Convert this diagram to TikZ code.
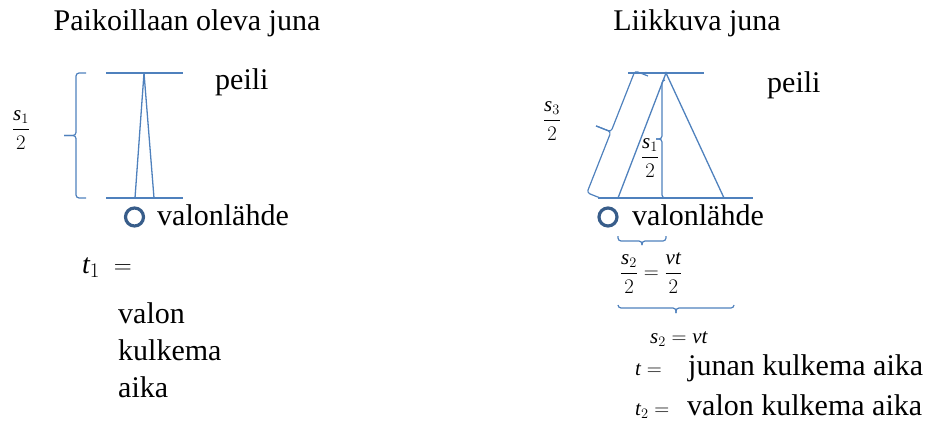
\documentclass[tikz,border=0pt]{standalone}
\usepackage{amsmath}
\usepackage{fontspec}
\setmainfont{Liberation Serif}
\newfontfamily\junafont{Liberation Serif}
\setmathrm{Liberation Serif}
\definecolor{linja}{RGB}{79,129,189}
\definecolor{lamppu}{RGB}{56,93,138}

% square brace: length, spine offset, tip offset (drawn in a shifted/rotated scope)
\newcommand{\sqbrace}[3]{%
  \draw[bracket] (0,0) -- (0,#2) -- ({#1/2},#2) -- ({#1/2},#3);
  \draw[bracket] (#1,0) -- (#1,#2) -- ({#1/2},#2) -- ({#1/2},#3);}

\begin{document}
\begin{tikzpicture}[
  x=1pt, y=-1pt,
  every node/.style={inner sep=0pt},
  mirror/.style={draw=linja, line width=1.3pt},
  ray/.style={draw=linja, line width=1.3pt},
  bracket/.style={draw=linja, line width=1.2pt, rounded corners=3pt},
  lamp/.style={circle, draw=lamppu, line width=3.2pt, minimum size=18pt},
  txt/.style={font=\junafont\fontsize{30}{36}\selectfont, anchor=base west},
  head/.style={font=\junafont\fontsize{30}{36}\selectfont, anchor=base},
  eq/.style={font=\junafont\fontsize{21}{25}\selectfont}
]
\useasboundingbox (0,0) rectangle (933,436);

% Train at rest.
\node[head] (titleL) at (187,31) {Paikoillaan oleva juna};
\draw[mirror] (106,73) -- (183,73);
\draw[mirror] (106,198) -- (183,198);
\draw[ray] (135,198) -- (144,73) -- (154,198);
\begin{scope}[shift={(86,73)}, rotate=-90]
  \sqbrace{125}{10}{22}
\end{scope}
\node[eq] (halfL) at (21,130) {$\dfrac{\mathit{s}_1}{2}$};
\node[txt] (peiliL) at (215,89) {peili};
\node[lamp] (lampL) at (134.5,217) {};
\node[txt] (srcL) at (157,225) {valonlähde};
\node[txt, font=\junafont\fontsize{28}{34}\selectfont] (t1) at (82,273) {$\mathit{t}_1\;=$};
\node[txt] (valonL) at (118,323) {valon};
\node[txt] (kulkemaL) at (118,360) {kulkema};
\node[txt] (aikaL) at (118,397) {aika};

% Moving train.
\node[head] (titleR) at (697,31) {Liikkuva juna};
\draw[mirror] (628,73) -- (704,73);
\draw[mirror] (598,198) -- (753,198);
\draw[ray] (618,198) -- (666,73) -- (724,198);
\begin{scope}[shift={(648,76)}, rotate=-111.5]
  \sqbrace{131}{14}{30}
\end{scope}
\begin{scope}[shift={(665,80)}, rotate=-90]
  \sqbrace{118}{3}{9}
\end{scope}
\node[eq] (halfS3) at (552,121) {$\dfrac{\mathit{s}_3}{2}$};
\node[eq] (halfS1) at (650,158) {$\dfrac{\mathit{s}_1}{2}$};
\node[txt] (peiliR) at (767,92) {peili};
\node[lamp] (lampR) at (608,217) {};
\node[txt] (srcR) at (632,225) {valonlähde};

% Distances below the source.
\begin{scope}[shift={(618,236)}]
  \sqbrace{48}{5}{9}
\end{scope}
\node[eq] (halfS2) at (651,273) {$\dfrac{\mathit{s}_2}{2}=\dfrac{\mathit{vt}}{2}$};
\begin{scope}[shift={(618,305)}]
  \sqbrace{116}{3}{8}
\end{scope}
\node[eq, anchor=base west] (fullS2) at (650,343) {$\mathit{s}_2=\mathit{vt}$};
\node[eq, anchor=base west] (tJ) at (635,375) {$\mathit{t}=$};
\node[txt] (junaR) at (688,375) {junan kulkema aika};
\node[eq, anchor=base west] (t2) at (635,415) {$\mathit{t}_2=$};
\node[txt] (valoR) at (687,415) {valon kulkema aika};

\end{tikzpicture}
\end{document}
